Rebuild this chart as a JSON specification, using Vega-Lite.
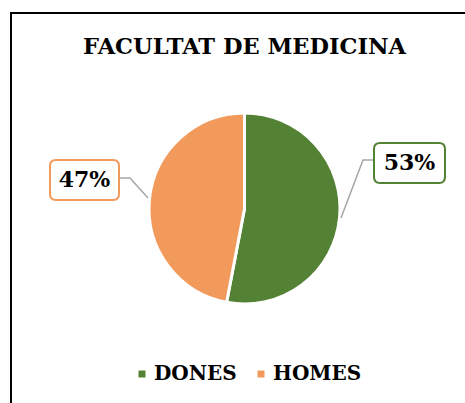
{
  "$schema": "https://vega.github.io/schema/vega-lite/v6.json",
  "autosize": {"type": "none"},
  "padding": {"left": 11, "top": 13, "right": 0, "bottom": 0},
  "width": 467,
  "height": 391,
  "background": "white",
  "view": {"stroke": "black", "strokeWidth": 2},
  "title": {
    "text": "FACULTAT DE MEDICINA",
    "font": "DejaVu Serif",
    "fontSize": 22.5,
    "fontWeight": "bold",
    "color": "black",
    "anchor": "middle",
    "frame": "group",
    "orient": "top",
    "baseline": "top",
    "offset": -45
  },
  "data": {
    "values": [
      {"cat": "DONES", "value": 0.53},
      {"cat": "HOMES", "value": 0.47}
    ]
  },
  "layer": [
    {
      "mark": {"type": "arc", "outerRadius": 95.5, "stroke": "white", "strokeWidth": 3},
      "encoding": {
        "theta": {"field": "value", "type": "quantitative", "stack": true},
        "color": {
          "field": "cat",
          "type": "nominal",
          "scale": {"domain": ["DONES", "HOMES"], "range": ["#548235", "#F19A5C"]},
          "legend": {
            "title": null,
            "orient": "none",
            "direction": "horizontal",
            "legendX": 121,
            "legendY": 351,
            "symbolType": "square",
            "symbolSize": 49,
            "symbolStrokeWidth": 0,
            "labelFont": "DejaVu Serif",
            "labelFontWeight": "bold",
            "labelFontSize": 20,
            "labelColor": "black",
            "labelOffset": 2,
            "columnPadding": 14
          }
        }
      }
    },
    {
      "transform": [{"filter": "datum.cat === 'DONES'"}],
      "mark": {"type": "point", "x": {"expr": "width/2"}, "y": {"expr": "height/2"}, "size": 4, "opacity": 1, "filled": false, "fill": null, "stroke": "#A6A6A6", "strokeWidth": 1.5,
        "shape": "M129.5,-48.5 L118.5,-48.5 L96.5,9.5"},
      "encoding": {}
    },
    {
      "transform": [{"filter": "datum.cat === 'HOMES'"}],
      "mark": {"type": "point", "x": {"expr": "width/2"}, "y": {"expr": "height/2"}, "size": 4, "opacity": 1, "filled": false, "fill": null, "stroke": "#A6A6A6", "strokeWidth": 1.5,
        "shape": "M-125.5,-30.5 L-114.5,-30.5 L-96.5,-10.5"},
      "encoding": {}
    },
    {
      "transform": [{"filter": "datum.cat === 'DONES'"}],
      "mark": {"type": "point", "x": {"expr": "width/2"}, "y": {"expr": "height/2"}, "size": 4, "opacity": 1, "fill": "white", "stroke": "#548235", "strokeWidth": 2,
        "shape": "M135.5,-65.5 L194.5,-65.5 Q200.5,-65.5 200.5,-59.5 L200.5,-31.5 Q200.5,-25.5 194.5,-25.5 L135.5,-25.5 Q129.5,-25.5 129.5,-31.5 L129.5,-59.5 Q129.5,-65.5 135.5,-65.5 Z"},
      "encoding": {}
    },
    {
      "transform": [{"filter": "datum.cat === 'HOMES'"}],
      "mark": {"type": "point", "x": {"expr": "width/2"}, "y": {"expr": "height/2"}, "size": 4, "opacity": 1, "fill": "white", "stroke": "#F19A5C", "strokeWidth": 2,
        "shape": "M-188.5,-48.5 L-131.5,-48.5 Q-125.5,-48.5 -125.5,-42.5 L-125.5,-14.5 Q-125.5,-8.5 -131.5,-8.5 L-188.5,-8.5 Q-194.5,-8.5 -194.5,-14.5 L-194.5,-42.5 Q-194.5,-48.5 -188.5,-48.5 Z"},
      "encoding": {}
    },
    {
      "transform": [{"filter": "datum.cat === 'DONES'"}],
      "mark": {"type": "text", "x": {"expr": "width/2 + 165"}, "y": {"expr": "height/2 - 45.5"}, "font": "DejaVu Serif", "fontWeight": "bold", "fontSize": 22, "color": "black", "align": "center", "baseline": "middle"},
      "encoding": {"text": {"field": "value", "type": "quantitative", "format": ".0%"}}
    },
    {
      "transform": [{"filter": "datum.cat === 'HOMES'"}],
      "mark": {"type": "text", "x": {"expr": "width/2 - 160"}, "y": {"expr": "height/2 - 28.5"}, "font": "DejaVu Serif", "fontWeight": "bold", "fontSize": 22, "color": "black", "align": "center", "baseline": "middle"},
      "encoding": {"text": {"field": "value", "type": "quantitative", "format": ".0%"}}
    }
  ],
  "config": {
    "view": {"stroke": "black", "strokeWidth": 2},
    "style": {"cell": {"stroke": "black", "strokeWidth": 2}}
  }
}
